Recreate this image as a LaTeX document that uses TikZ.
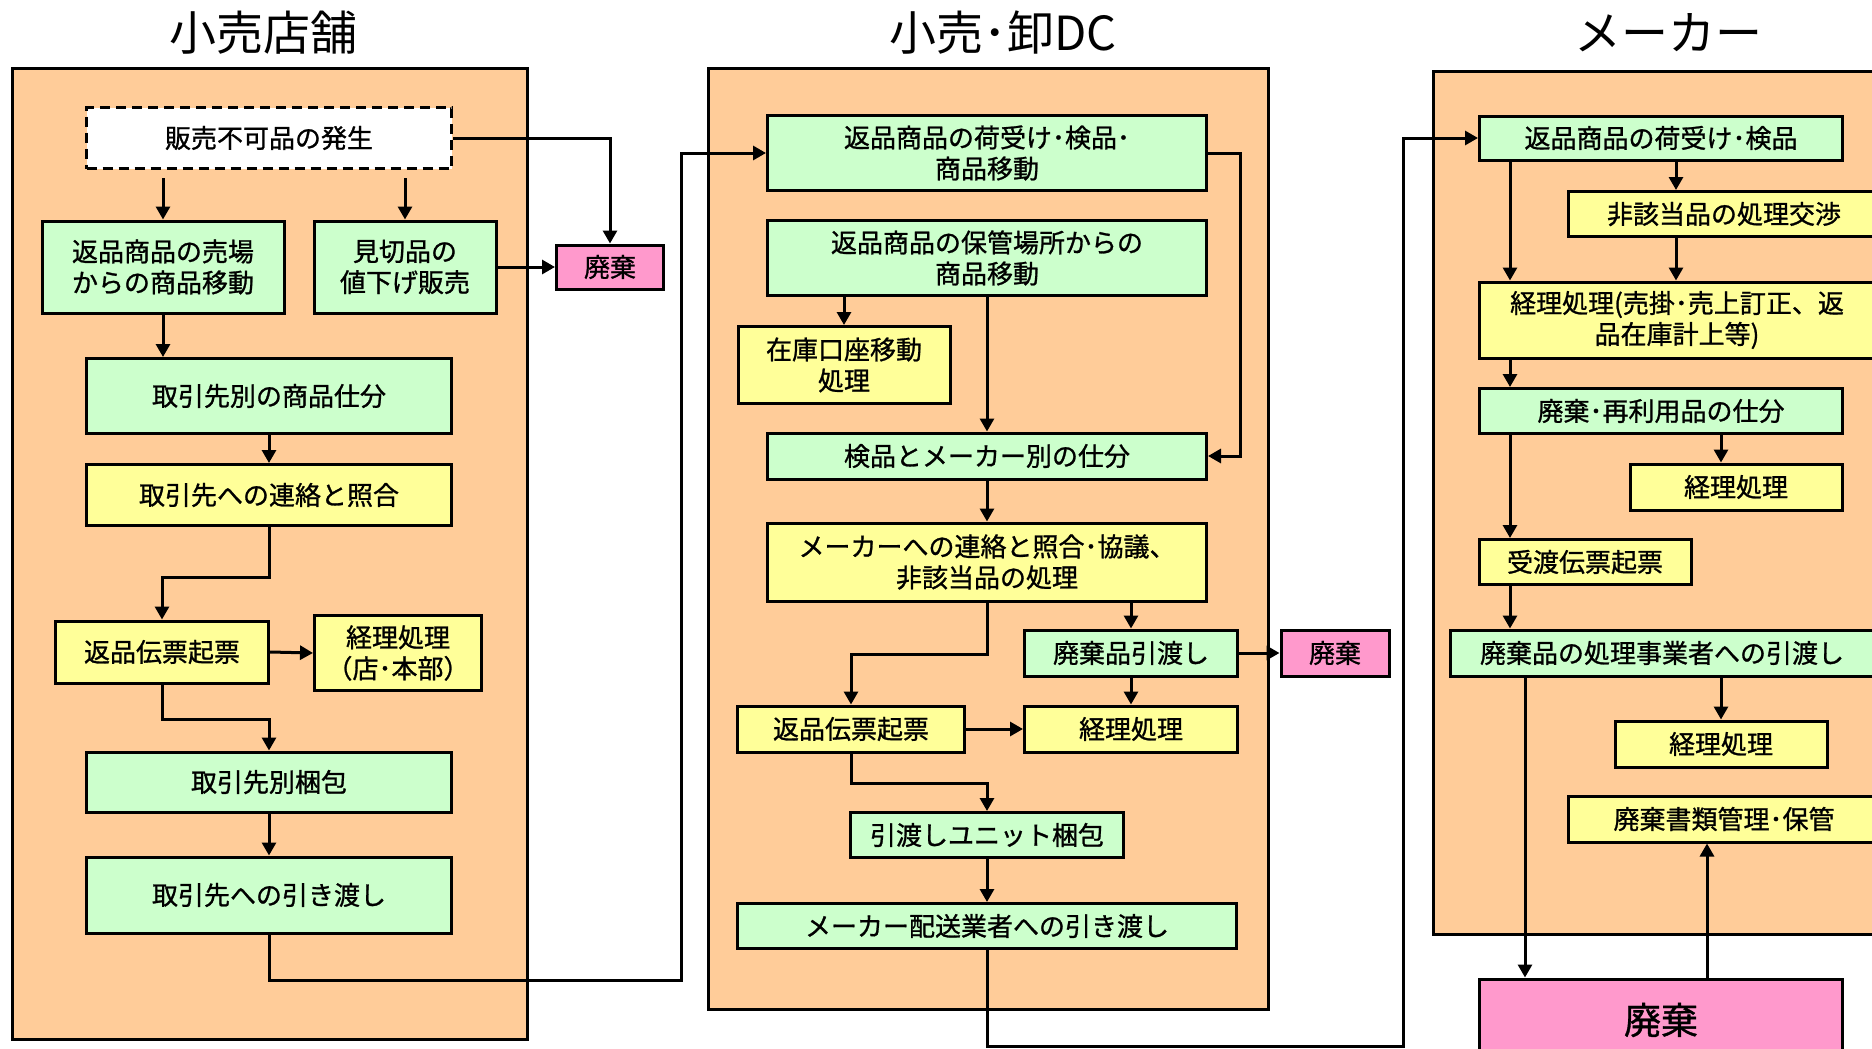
\documentclass[tikz,border=0pt]{standalone}
\usepackage{fontspec}
\setmainfont{Noto Sans CJK JP}
\newfontfamily\boxfont{Noto Sans CJK JP}[FakeBold=1]
\usetikzlibrary{arrows.meta}
\definecolor{peach}{RGB}{255,204,153}
\definecolor{mint}{RGB}{204,255,204}
\definecolor{lemon}{RGB}{255,255,153}
\definecolor{rose}{RGB}{255,153,204}
\begin{document}
\begin{tikzpicture}[x=1pt,y=-1pt,line width=3pt,
  box/.style={draw,inner sep=0pt,align=center,font=\boxfont\fontsize{26}{31}\selectfont},
  grn/.style={box,fill=mint},
  ylw/.style={box,fill=lemon},
  pnk/.style={box,fill=rose},
  pnl/.style={draw,fill=peach},
  ttl/.style={font=\fontsize{47}{50}\selectfont},
  arr/.style={-{Triangle[length=13pt,width=14pt]}}]
\useasboundingbox (0,0) rectangle (1872,1049);
\clip (0,0) rectangle (1872,1049);
\node[ttl] (t1) at (263,33) {小売店舗};
\node[ttl] (t2) at (1003,33) {小売･卸DC};
\node[ttl] (t3) at (1668,33) {メーカー};
\draw[pnl] (12,69) rectangle (527,1039);
\draw[pnl] (708,69) rectangle (1268,1009);
\draw[pnl] (1433,72) rectangle (1890,934);
% store
\node[box,fill=white,dash pattern=on 10pt off 6pt,minimum width=365,minimum height=61] (s1) at (269,138) {販売不可品の発生};
\node[grn,minimum width=242,minimum height=92] (s2) at (163,267) {返品商品の売場\\からの商品移動};
\node[grn,minimum width=182,minimum height=92] (s3) at (405,267) {見切品の\\値下げ販売};
\node[pnk,minimum width=107,minimum height=44] (s4) at (610,267) {廃棄};
\node[grn,minimum width=365,minimum height=75] (s5) at (269,396) {取引先別の商品仕分};
\node[ylw,minimum width=365,minimum height=61] (s6) at (269,495) {取引先への連絡と照合};
\node[ylw,minimum width=213,minimum height=62] (s7) at (162,652) {返品伝票起票};
\node[ylw,minimum width=167,minimum height=75] (s8) at (398,653) {経理処理\\（店･本部）};
\node[grn,minimum width=365,minimum height=60] (s9) at (269,782) {取引先別梱包};
\node[grn,minimum width=365,minimum height=76] (s10) at (269,895) {取引先への引き渡し};
% DC
\node[grn,minimum width=439,minimum height=75] (d1) at (987,153) {返品商品の荷受け･検品･\\商品移動};
\node[grn,minimum width=439,minimum height=75] (d2) at (987,258) {返品商品の保管場所からの\\商品移動};
\node[ylw,minimum width=212,minimum height=77] (d3) at (844,365) {在庫口座移動\\処理};
\node[grn,minimum width=439,minimum height=46] (d4) at (987,456) {検品とメーカー別の仕分};
\node[ylw,minimum width=439,minimum height=78] (d5) at (987,562) {メーカーへの連絡と照合･協議、\\非該当品の処理};
\node[grn,minimum width=213,minimum height=46] (d6) at (1131,653) {廃棄品引渡し};
\node[pnk,minimum width=108,minimum height=46] (d7) at (1335,653) {廃棄};
\node[ylw,minimum width=227,minimum height=46] (d8) at (851,729) {返品伝票起票};
\node[ylw,minimum width=213,minimum height=46] (d9) at (1131,729) {経理処理};
\node[grn,minimum width=273,minimum height=45] (d10) at (987,835) {引渡しユニット梱包};
\node[grn,minimum width=499,minimum height=45] (d11) at (987,926) {メーカー配送業者への引き渡し};
% maker
\node[grn,minimum width=363,minimum height=44] (m1) at (1661,138) {返品商品の荷受け･検品};
\node[ylw,minimum width=311,minimum height=45] (m2) at (1724,214) {非該当品の処理交渉};
\node[ylw,minimum width=396,minimum height=76] (m3) at (1677,320) {経理処理(売掛･売上訂正、返\\品在庫計上等)};
\node[grn,minimum width=363,minimum height=45] (m4) at (1661,411) {廃棄･再利用品の仕分};
\node[ylw,minimum width=212,minimum height=46] (m5) at (1736,487) {経理処理};
\node[ylw,minimum width=212,minimum height=45] (m6) at (1585,562) {受渡伝票起票};
\node[grn,minimum width=424,minimum height=46] (m7) at (1662,653) {廃棄品の処理事業者への引渡し};
\node[ylw,minimum width=212,minimum height=46] (m8) at (1721,744) {経理処理};
\node[ylw,minimum width=311,minimum height=46] (m9) at (1724,819) {廃棄書類管理･保管};
\node[pnk,minimum width=363,minimum height=82,font=\boxfont\fontsize{37}{40}\selectfont] (m10) at (1661,1020) {廃棄};
\coordinate (c1) at (681,980);
\coordinate (c2) at (1403,1046);
\coordinate (xa) at (1510,0);
\coordinate (xb) at (1676,0);
\coordinate (xc) at (1721,0);
\coordinate (xd) at (1525,0);
\coordinate (xe) at (1707,0);
\foreach \a/\b in {s5/s6,s9/s10,d2/d4,d4/d5,d6/d9,d10/d11}
  \draw[arr] (\a.south) -- (\b.north);
\foreach \a/\b in {s3/s4,s7/s8,d6/d7,d8/d9}
  \draw[arr] (\a.east) -- (\b.west);
\draw[arr,shorten <=8pt] (s1.south -| s2.north) -- (s2.north);
\draw[arr,shorten <=8pt] (s1.south -| s3.north) -- (s3.north);
\draw[arr] (s1.east) -| (s4.north);
\draw[arr] (s2.south) -- (s2.south |- s5.north);
\draw[arr] (s6.south) -- ++(0,50) -| (s7.north);
\draw[arr] (s7.south) -- ++(0,35) -| (s9.north);
\draw[arr] (s10.south) |- (c1) |- (d1.west);
\draw[arr] (d1.east) -- ++(32,0) |- (d4.east);
\draw[arr] (d2.south -| d3.north) -- (d3.north);
\draw[arr] (d5.south -| d6.north) -- (d6.north);
\draw[arr] (d5.south) -- ++(0,52) -| (d8.north);
\draw[arr] (d8.south) -- ++(0,30) -| (d10.north);
\draw[arr] (d11.south) |- (c2) |- (m1.west);
\draw[arr] (m1.south -| xa) -- (m3.north -| xa);
\draw[arr] (m1.south -| xb) -- (m2.north -| xb);
\draw[arr] (m2.south -| xb) -- (m3.north -| xb);
\draw[arr] (m3.south -| xa) -- (m4.north -| xa);
\draw[arr] (m4.south -| xc) -- (m5.north -| xc);
\draw[arr] (m4.south -| xa) -- (m6.north -| xa);
\draw[arr] (m6.south -| xa) -- (m7.north -| xa);
\draw[arr] (m7.south -| xd) -- (m10.north -| xd);
\draw[arr] (m7.south -| m8.north) -- (m8.north);
\draw[arr] (m10.north -| xe) -- (m9.south -| xe);
\end{tikzpicture}
\end{document}
